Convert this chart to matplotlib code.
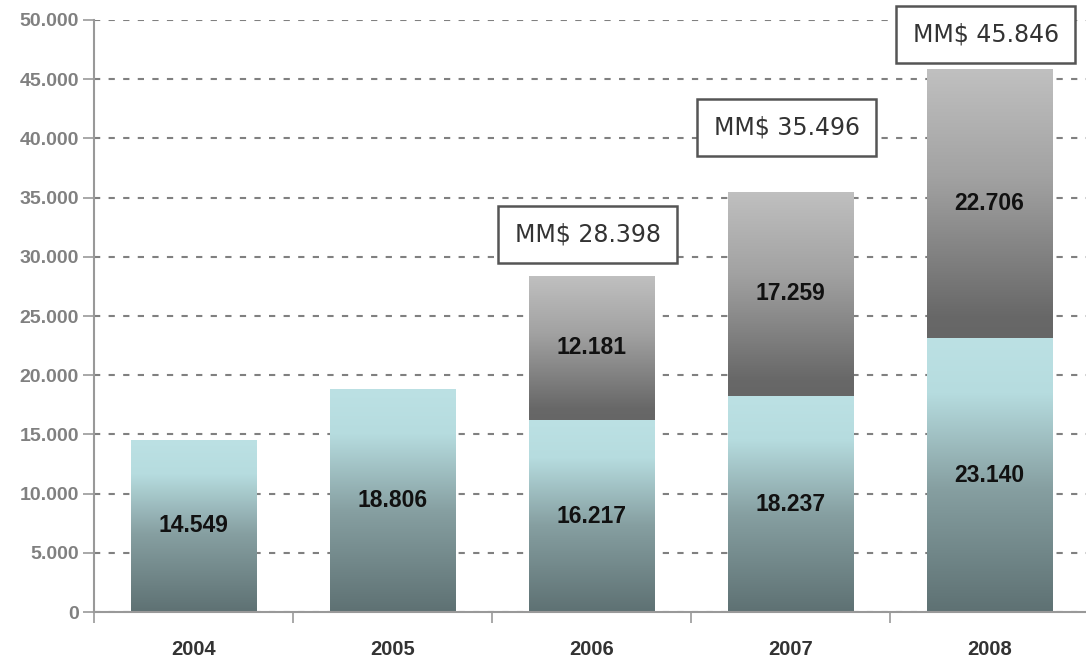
import numpy as np
import matplotlib.pyplot as plt
from matplotlib.colors import LinearSegmentedColormap

years = ["2004", "2005", "2006", "2007", "2008"]
base_values = [14549, 18806, 16217, 18237, 23140]
top_values = [0, 0, 12181, 17259, 22706]
totals = [None, None, 28398, 35496, 45846]
box_y = [None, None, 31900, 40950, 48750]

plt.rcParams['font.family'] = ['Liberation Sans', 'DejaVu Sans']

fig = plt.figure(figsize=(10.86, 6.6), dpi=100)
ax = fig.add_axes([0.0866, 0.0727, 0.9163, 0.897])

base_cmap = LinearSegmentedColormap.from_list(
    "base", [(0.0, "#5e7173"), (0.45, "#869fa1"), (0.8, "#b6dcdf"), (1.0, "#bce1e4")])
top_cmap = LinearSegmentedColormap.from_list(
    "top", [(0.0, "#666666"), (0.08, "#686868"), (0.6, "#a2a2a2"), (1.0, "#c0c0c0")])

x = np.arange(len(years))
width = 0.63
grad = np.linspace(0, 1, 256).reshape(-1, 1)

bars_base = ax.bar(x, base_values, width, color="none", edgecolor="none", zorder=2)
bars_top = ax.bar(x, top_values, width, bottom=base_values, color="none", edgecolor="none", zorder=2)

# gradient fill clipped to each bar
for bars, cmap in [(bars_base, base_cmap), (bars_top, top_cmap)]:
    for b in bars:
        if b.get_height() <= 0:
            continue
        x0, y0 = b.get_x(), b.get_y()
        im = ax.imshow(grad, cmap=cmap, origin="lower", aspect="auto",
                       extent=[x0, x0 + b.get_width(), y0, y0 + b.get_height()], zorder=2)
        im.set_clip_path(b)

# value labels
for i in range(len(years)):
    ax.text(x[i], base_values[i] / 2, f"{base_values[i] / 1000:.3f}", ha="center", va="center",
            fontsize=16.5, fontweight="bold", color="#111111", zorder=4)
    if top_values[i] > 0:
        ax.text(x[i], base_values[i] + top_values[i] / 2, f"{top_values[i] / 1000:.3f}",
                ha="center", va="center", fontsize=16.5, fontweight="bold", color="#111111", zorder=4)
    if totals[i]:
        ax.text(x[i] - 0.02, box_y[i], f"MM$ {totals[i] / 1000:.3f}", ha="center", va="center",
                fontsize=17, family=["DejaVu Sans"], color="#333333", zorder=5,
                bbox=dict(boxstyle="square,pad=0.7", facecolor="white", edgecolor="#555555", linewidth=1.8))

ax.set_xlim(-0.5, len(years) - 0.5)
ax.set_ylim(0, 50000)
ax.set_yticks(np.arange(0, 50001, 5000))
ax.set_yticklabels(["0"] + [f"{v // 1000}.000" for v in range(5000, 50001, 5000)])
ax.set_xticks(x)
ax.set_xticklabels(years)
ax.set_xticks(np.arange(-0.5, len(years), 1), minor=True)

ax.yaxis.grid(True, linestyle=(0, (3, 4)), color="#808080", linewidth=1.5, zorder=1)
ax.set_axisbelow(True)

for side in ["top", "right"]:
    ax.spines[side].set_visible(False)
for side in ["left", "bottom"]:
    ax.spines[side].set_color("#999999")
    ax.spines[side].set_linewidth(1.5)

ax.tick_params(axis="y", length=8, width=1.2, color="#999999", labelsize=14, labelcolor="#808080", pad=3)
ax.tick_params(axis="x", which="major", length=0, labelsize=14.5, labelcolor="#333333", pad=20)
ax.tick_params(axis="x", which="minor", length=8, width=1.2, color="#999999")
for lab in ax.get_yticklabels() + ax.get_xticklabels():
    lab.set_fontweight("bold")

fig.savefig("out.png", dpi=100)
